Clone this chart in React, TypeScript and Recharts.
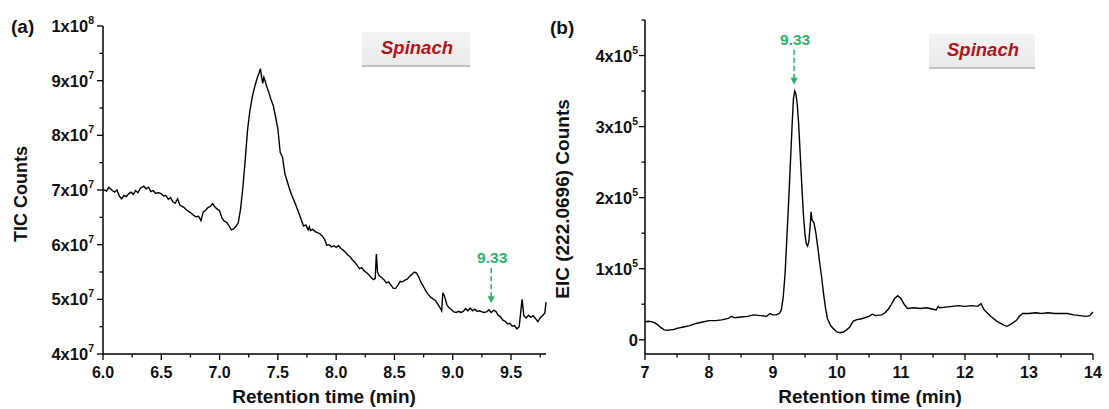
import React from "react";
import { LineChart, Line, XAxis, YAxis, ReferenceDot } from "recharts";

const FONT = '"Liberation Sans", Arial, Helvetica, sans-serif';
const GREEN = "#2bb36a";
const RED = "#b0141c";

// (a) TIC chromatogram: retention time (min) / counts (x1e6)
const ticTime = [
  6.0, 6.03, 6.05, 6.08, 6.1, 6.12, 6.14, 6.16, 6.18, 6.2, 6.22, 6.24, 6.26, 6.28, 6.3, 6.32, 6.35, 6.37, 6.39,
  6.41, 6.43, 6.45, 6.48, 6.5, 6.52, 6.54, 6.56, 6.58, 6.6, 6.62, 6.64, 6.66, 6.68, 6.7, 6.72, 6.74, 6.76, 6.78,
  6.8, 6.82, 6.84, 6.86, 6.88, 6.9, 6.92, 6.94, 6.96, 6.98, 7.0, 7.02, 7.04, 7.06, 7.08, 7.1, 7.12, 7.14, 7.16,
  7.18, 7.2, 7.22, 7.24, 7.26, 7.28, 7.3, 7.32, 7.34, 7.35, 7.36, 7.37, 7.38, 7.39, 7.4, 7.42, 7.44, 7.46, 7.48,
  7.5, 7.52, 7.54, 7.56, 7.58, 7.6, 7.62, 7.64, 7.66, 7.68, 7.7, 7.72, 7.74, 7.76, 7.77, 7.78, 7.8, 7.82, 7.84,
  7.86, 7.88, 7.9, 7.92, 7.94, 7.96, 7.98, 8.0, 8.02, 8.04, 8.06, 8.08, 8.1, 8.12, 8.14, 8.16, 8.18, 8.2, 8.22,
  8.24, 8.26, 8.28, 8.3, 8.32, 8.335, 8.345, 8.355, 8.37, 8.39, 8.41, 8.43, 8.45, 8.47, 8.49, 8.51, 8.53, 8.55,
  8.57, 8.59, 8.61, 8.63, 8.65, 8.67, 8.69, 8.71, 8.73, 8.75, 8.77, 8.79, 8.81, 8.83, 8.85, 8.87, 8.89, 8.905,
  8.915, 8.93, 8.95, 8.97, 8.99, 9.01, 9.03, 9.05, 9.07, 9.09, 9.11, 9.13, 9.15, 9.17, 9.19, 9.21, 9.23, 9.25,
  9.27, 9.29, 9.31, 9.33, 9.35, 9.37, 9.39, 9.41, 9.43, 9.45, 9.47, 9.49, 9.51, 9.53, 9.55, 9.57, 9.595, 9.61,
  9.63, 9.65, 9.67, 9.69, 9.71, 9.73, 9.75, 9.77, 9.79, 9.8,
];
const ticCounts = [
  70.1, 69.8, 70.5, 69.9, 69.6, 70.0, 68.9, 68.4, 69.0, 68.8, 69.3, 69.6, 69.2, 69.9, 69.5, 70.3, 70.7, 70.2, 70.5,
  69.7, 69.9, 69.4, 69.5, 69.3, 68.9, 69.0, 68.3, 68.6, 67.8, 67.6, 68.4, 67.2, 67.0, 66.7, 66.3, 66.0, 65.7, 65.3,
  65.1, 65.2, 64.4, 66.0, 66.3, 66.8, 67.0, 67.5, 66.9, 66.5, 66.2, 64.9, 64.3, 64.1, 63.5, 62.7, 62.9, 63.3, 64.0,
  66.5, 70.5, 75.5, 81.0, 84.5, 87.0, 88.8, 90.3, 91.5, 92.2, 90.8, 89.5, 90.6, 90.0, 89.2, 88.0, 86.6, 85.5, 83.4,
  81.2, 76.9, 76.0, 73.0, 71.6, 70.2, 69.0, 68.0, 66.9, 65.8, 64.6, 63.4, 63.6, 62.7, 63.3, 62.6, 62.8, 62.4, 62.2,
  62.0, 61.6, 61.0, 59.9, 60.0, 59.6, 59.8, 59.5, 59.8, 59.3, 59.0, 58.6, 58.1, 57.8, 57.2, 56.8, 56.2, 55.6, 55.8,
  55.2, 54.9, 54.5, 54.0, 53.6, 53.8, 58.3, 55.0, 54.3, 54.0, 53.6, 53.0, 53.2, 52.6, 52.0, 52.0, 52.6, 53.3,
  53.2, 53.5, 53.7, 54.2, 54.6, 55.0, 54.8, 54.0, 53.0, 52.3, 51.5, 50.9, 50.4, 50.1, 49.8, 49.2, 48.5, 47.9,
  51.2, 50.5, 49.0, 48.4, 48.1, 47.7, 47.6, 47.8, 47.6, 47.8, 48.3, 47.9, 48.4, 47.9, 48.2, 47.8, 47.9, 47.7,
  47.6, 47.7, 48.1, 47.6, 48.0, 47.8, 47.1, 46.8, 46.2, 46.0, 45.5, 45.6, 45.1, 45.2, 44.6, 45.0, 50.0, 47.0,
  46.6, 47.1, 46.7, 47.0, 46.5, 45.9, 46.6, 47.0, 47.5, 49.5,
];

// (b) EIC 222.0696: retention time (min) / counts (x1e3)
const eicTime = [
  7.0, 7.05, 7.1, 7.15, 7.2, 7.25, 7.3, 7.35, 7.4, 7.45, 7.5, 7.6, 7.7, 7.8, 7.9, 8.0, 8.1, 8.2, 8.3, 8.35, 8.4,
  8.5, 8.6, 8.7, 8.8, 8.9, 8.95, 9.0, 9.05, 9.1, 9.13, 9.16, 9.19, 9.22, 9.25, 9.28, 9.3, 9.32, 9.34, 9.36, 9.38,
  9.4, 9.42, 9.44, 9.46, 9.48, 9.5, 9.52, 9.54, 9.56, 9.58, 9.595, 9.61, 9.64, 9.67, 9.7, 9.73, 9.76, 9.79, 9.82,
  9.85, 9.9, 9.95, 10.0, 10.05, 10.1, 10.15, 10.2, 10.25, 10.3, 10.4, 10.5, 10.55, 10.6, 10.7, 10.75, 10.8,
  10.85, 10.9, 10.95, 11.0, 11.05, 11.1, 11.2, 11.3, 11.4, 11.5, 11.55, 11.58, 11.6, 11.7, 11.8, 11.9, 12.0,
  12.1, 12.2, 12.25, 12.3, 12.4, 12.5, 12.6, 12.65, 12.7, 12.8, 12.85, 12.9, 13.0, 13.1, 13.2, 13.3, 13.4,
  13.5, 13.6, 13.7, 13.8, 13.9, 13.95, 14.0,
];
const eicCounts = [
  25, 26, 25.5, 24, 21, 17, 14, 13.5, 14, 14.5, 16, 18, 20, 23, 25, 27, 27, 28, 30, 33, 31,
  32, 33, 35, 34, 33, 37, 35, 35, 37, 42, 60, 95, 150, 205, 265, 305, 340, 350, 345, 330,
  305, 270, 235, 200, 170, 148, 135, 132, 138, 160, 180, 168, 165, 150, 130, 108, 88, 65, 45,
  30, 20, 15, 11, 10, 11, 14, 18, 26, 28, 30, 33, 36, 34, 35, 38, 43,
  50, 58, 62, 58, 50, 44, 45, 44, 45, 43, 42, 47, 45, 46, 47, 48, 47,
  48, 47, 51, 42, 33, 26, 21, 19, 21, 27, 33, 37, 37, 38, 37, 38, 37,
  37, 37, 35, 34, 33, 34, 39,
];

const ticXTicks = [6, 6.25, 6.5, 6.75, 7, 7.25, 7.5, 7.75, 8, 8.25, 8.5, 8.75, 9, 9.25, 9.5, 9.75];
const ticYTicks = [4e7, 4.5e7, 5e7, 5.5e7, 6e7, 6.5e7, 7e7, 7.5e7, 8e7, 8.5e7, 9e7, 9.5e7, 1e8];
const eicXTicks = [7, 7.5, 8, 8.5, 9, 9.5, 10, 10.5, 11, 11.5, 12, 12.5, 13, 13.5, 14];
const eicYTicks = [0, 5e4, 1e5, 1.5e5, 2e5, 2.5e5, 3e5, 3.5e5, 4e5, 4.5e5];

const ticData = ticTime.map((t, i) => ({ t, v: ticCounts[i] * 1e6 }));
const eicData = eicTime.map((t, i) => ({ t, v: eicCounts[i] * 1e3 }));

const isMultiple = (v: number, step: number) => Math.abs(v / step - Math.round(v / step)) < 1e-6;

function sci(v: number): [string, number | null] {
  if (v === 0) return ["0", null];
  const e = Math.floor(Math.log10(v) + 1e-9);
  return [`${Math.round(v / 10 ** e)}x10`, e];
}

function XTick(props: any) {
  const { x, y, payload, step, digits } = props;
  const major = isMultiple(payload.value, step);
  return (
    <g>
      <line x1={x} x2={x} y1={y} y2={y + (major ? 6 : 3.5)} stroke="#000" strokeWidth={1.3} />
      {major && (
        <text x={x} y={y + 24} textAnchor="middle" fontFamily={FONT} fontWeight="bold" fontSize={16} fill="#111">
          {payload.value.toFixed(digits)}
        </text>
      )}
    </g>
  );
}

function YTick(props: any) {
  const { x, y, payload, step, gap } = props;
  const major = isMultiple(payload.value, step);
  const [m, e] = sci(payload.value);
  return (
    <g>
      <line x1={x - (major ? 6 : 3.5)} x2={x} y1={y} y2={y} stroke="#000" strokeWidth={1.3} />
      {major && (
        <text x={x - gap} y={y + 6} textAnchor="end" fontFamily={FONT} fontWeight="bold" fontSize={16.5} fill="#111">
          <tspan>{m}</tspan>
          {e !== null && <tspan dy={-8} fontSize={10.5}>{e}</tspan>}
        </text>
      )}
    </g>
  );
}

function Pointer(props: any) {
  const { cx, cy } = props;
  const top = cy - 35;
  return (
    <g>
      <text x={cx + 1} y={top - 5} textAnchor="middle" fontFamily={FONT} fontWeight="bold" fontSize={15.5} fill={GREEN}>
        9.33
      </text>
      <line x1={cx} x2={cx} y1={top} y2={cy - 6} stroke={GREEN} strokeWidth={1.6} strokeDasharray="5 3" />
      <path d={`M${cx - 3.5},${cy - 7} L${cx + 3.5},${cy - 7} L${cx},${cy} Z`} fill={GREEN} />
    </g>
  );
}

function SpinachTag({ x, y, w, h }: { x: number; y: number; w: number; h: number }) {
  return (
    <g>
      <rect x={x} y={y} width={w} height={h} fill="url(#tagFill)" />
      <line x1={x} x2={x + w} y1={y + h} y2={y + h} stroke="#c2c2c2" strokeWidth={2} />
      <text x={x + w / 2 + 1} y={y + 22} textAnchor="middle" fontFamily={FONT} fontWeight="bold" fontStyle="italic" fontSize={18.5} fill={RED}>
        Spinach
      </text>
    </g>
  );
}

const axisLine = { stroke: "#000", strokeWidth: 1.5 };

export default function App() {
  return (
    <div style={{ position: "absolute", left: 0, top: 0, width: 1109, height: 409, background: "#fff" }}>
      <div style={{ position: "absolute", left: 0, top: 0 }}>
        <LineChart width={560} height={409} data={ticData} margin={{ top: 26, right: 14, bottom: 0, left: 0 }}>
          <XAxis
            dataKey="t"
            type="number"
            domain={[6, 9.8]}
            ticks={ticXTicks}
            interval={0}
            height={55}
            tickSize={0}
            tickMargin={0}
            tickLine={false}
            axisLine={axisLine}
            tick={(p: any) => <XTick {...p} step={0.5} digits={1} />}
          />
          <YAxis
            type="number"
            domain={[4e7, 1e8]}
            ticks={ticYTicks}
            interval={0}
            width={103}
            tickSize={0}
            tickMargin={0}
            tickLine={false}
            axisLine={axisLine}
            tick={(p: any) => <YTick {...p} step={1e7} gap={9} />}
          />
          <Line dataKey="v" type="linear" stroke="#000" strokeWidth={1.4} dot={false} isAnimationActive={false} />
          <ReferenceDot x={9.33} y={4.93e7} r={0} ifOverflow="visible" shape={(p: any) => <Pointer {...p} />} />
        </LineChart>
      </div>
      <div style={{ position: "absolute", left: 560, top: 0 }}>
        <LineChart width={549} height={409} data={eicData} margin={{ top: 20, right: 16, bottom: 0, left: 0 }}>
          <XAxis
            dataKey="t"
            type="number"
            domain={[7, 14]}
            ticks={eicXTicks}
            interval={0}
            height={55}
            tickSize={0}
            tickMargin={0}
            tickLine={false}
            axisLine={axisLine}
            tick={(p: any) => <XTick {...p} step={1} digits={0} />}
          />
          <YAxis
            type="number"
            domain={[-2e4, 4.5e5]}
            ticks={eicYTicks}
            interval={0}
            width={85}
            tickSize={0}
            tickMargin={0}
            tickLine={false}
            axisLine={axisLine}
            tick={(p: any) => <YTick {...p} step={1e5} gap={7} />}
          />
          <Line dataKey="v" type="linear" stroke="#000" strokeWidth={1.4} dot={false} isAnimationActive={false} />
          <ReferenceDot x={9.33} y={3.59e5} r={0} ifOverflow="visible" shape={(p: any) => <Pointer {...p} />} />
        </LineChart>
      </div>
      <svg width={1109} height={409} style={{ position: "absolute", left: 0, top: 0, pointerEvents: "none" }}>
        <defs>
          <linearGradient id="tagFill" x1="0" y1="0" x2="0" y2="1">
            <stop offset="0" stopColor="#f3f3f3" />
            <stop offset="1" stopColor="#e9e9e9" />
          </linearGradient>
        </defs>
        <g fontFamily={FONT} fontWeight="bold" fill="#111">
          <text x={11} y={33} fontSize={19}>(a)</text>
          <text x={550} y={34} fontSize={19}>(b)</text>
          <text transform="translate(27,194) rotate(-90)" textAnchor="middle" fontSize={18}>TIC Counts</text>
          <text transform="translate(569,199) rotate(-90)" textAnchor="middle" fontSize={19}>EIC (222.0696) Counts</text>
          <text x={324} y={403} textAnchor="middle" fontSize={19}>Retention time (min)</text>
          <text x={870} y={403} textAnchor="middle" fontSize={19}>Retention time (min)</text>
        </g>
        <SpinachTag x={362} y={32} w={108} h={34} />
        <SpinachTag x={929} y={34} w={106} h={34} />
      </svg>
    </div>
  );
}
